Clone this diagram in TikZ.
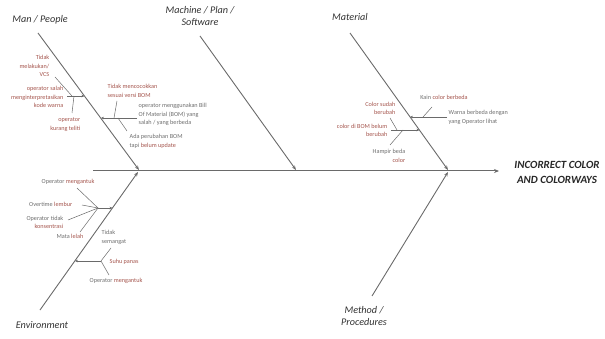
\documentclass[tikz,border=0pt]{standalone}
\usepackage{fontspec}
\setmainfont{Carlito}
\usetikzlibrary{arrows.meta}
\definecolor{ln}{HTML}{6A6A6A}
\definecolor{tx}{HTML}{6E6E6E}
\definecolor{rd}{HTML}{A4544C}
\newcommand{\rt}[1]{\textcolor{rd}{#1}}
\begin{document}
\begin{tikzpicture}[x=1pt,y=-1pt,
 bone/.style={draw=ln, line width=0.9pt, -{Stealth[length=4.5pt,width=3.5pt]}},
 spine/.style={draw=ln, line width=1pt, -{Stealth[length=5pt,width=4pt]}},
 sub/.style={draw=ln, line width=0.6pt, -{Stealth[length=3pt,width=2.6pt]}},
 twig/.style={draw=ln, line width=0.5pt},
 lbl/.style={font=\fontsize{6.2}{8.5}\selectfont, text=tx, inner sep=0.5pt},
 cat/.style={font=\fontsize{10.2}{12}\selectfont\itshape, text=black!80, inner sep=0pt, align=center},
 ttl/.style={font=\fontsize{11}{15}\selectfont\bfseries\itshape, text=black!85, inner sep=0pt, align=center},
]
\useasboundingbox (0,0) rectangle (605,339);
% spine
\coordinate (spS) at (93,171);
\coordinate (spE) at (499,171);
\draw[spine] (spS) -- (spE);
\node[ttl] (title) at (557,172.5) {INCORRECT COLOR\\AND COLORWAYS};
% main bones
\coordinate (manT) at (38,33);   \coordinate (manJ) at (139,170);
\coordinate (envT) at (40,310);  \coordinate (envJ) at (138,172);
\coordinate (macT) at (200,36);  \coordinate (macJ) at (296,170);
\coordinate (matT) at (350,33);  \coordinate (matJ) at (448,170);
\coordinate (metT) at (372,296); \coordinate (metJ) at (448,172);
\draw[bone] (manT) -- (manJ);
\draw[bone] (envT) -- (envJ);
\draw[bone] (macT) -- (macJ);
\draw[bone] (matT) -- (matJ);
\draw[bone] (metT) -- (metJ);
% category labels
\node[cat] (cMan) at (40,20) {Man / People};
\node[cat] (cMac) at (200,16) {Machine / Plan /\\Software};
\node[cat] (cMat) at (350,17) {Material};
\node[cat] (cEnv) at (42,325) {Environment};
\node[cat] (cMet) at (364,316) {Method /\\Procedures};
% ---- Man / People ----
\coordinate (m1a) at (67,96);  \coordinate (m1b) at (84.5,96);
\draw[sub] (m1a) -- (m1b);
\coordinate (m2a) at (137,118); \coordinate (m2b) at (101,118);
\draw[sub] (m2a) -- (m2b);
\node[lbl, anchor=east, align=right] (n1) at (50,66) {\rt{Tidak}\\\rt{melakukan/}\\\rt{VCS}};
\node[lbl, anchor=east, align=right] (n2) at (64,97) {\rt{operator salah}\\\rt{menginterpretasikan}\\\rt{kode warna}};
\node[lbl, anchor=east, align=right] (n3) at (81,124.5) {\rt{operator}\\\rt{kurang teliti}};
\node[lbl, anchor=west, align=left] (n4) at (107,91) {\rt{Tidak mencocokkan}\\\rt{sesuai versi BOM}};
\node[lbl, anchor=west, align=left] (n5) at (138,114.5) {operator menggunakan Bill\\Of Material (BOM) yang\\salah / yang berbeda};
\node[lbl, anchor=west, align=left] (n6) at (129,141.5) {Ada perubahan BOM\\tapi \rt{belum update}};
\coordinate (t1) at (55,77);  \coordinate (t1e) at (72,96);
\coordinate (t2) at (72,113); \coordinate (t2e) at (74,96);
\coordinate (t3) at (117,101); \coordinate (t3e) at (114,118);
\coordinate (t4) at (127,131); \coordinate (t4e) at (118,118);
\draw[twig] (t1) -- (t1e);
\draw[twig] (t2) -- (t2e);
\draw[twig] (t3) -- (t3e);
\draw[twig] (t4) -- (t4e);
% ---- Environment ----
\coordinate (e1a) at (98,208); \coordinate (e1b) at (112.5,208);
\draw[sub] (e1a) -- (e1b);
\coordinate (e2a) at (101,261); \coordinate (e2b) at (75,261);
\draw[sub] (e2a) -- (e2b);
\node[lbl] (x1) at (68,182) {Operator \rt{mengantuk}};
\node[lbl, anchor=east] (x2) at (73,204) {Overtime \rt{lembur}};
\node[lbl, anchor=east, align=right] (x3) at (64,222.5) {Operator tidak\\\rt{konsentrasi}};
\node[lbl] (x4) at (70,236) {Mata \rt{lelah}};
\node[lbl, anchor=west, align=left] (x5) at (101,237.5) {Tidak\\semangat};
\node[lbl, anchor=west] (x6) at (109,262) {\rt{Suhu panas}};
\node[lbl] (x7) at (116,281) {Operator \rt{mengantuk}};
\coordinate (u1) at (77,188);  \coordinate (u2) at (82,205);
\coordinate (u3) at (68,220);  \coordinate (u4) at (80,232);
\draw[twig] (u1) -- (e1a);
\draw[twig] (u2) -- (e1a);
\draw[twig] (u3) -- (e1a);
\draw[twig] (u4) -- (e1a);
\coordinate (u5) at (111,248); \coordinate (u6) at (109,275);
\draw[twig] (e2a) -- (u5);
\draw[twig] (e2a) -- (u6);
% ---- Material ----
\coordinate (a1a) at (447,117); \coordinate (a1b) at (410,117);
\draw[sub] (a1a) -- (a1b);
\coordinate (a2a) at (391,130); \coordinate (a2b) at (419.5,130);
\draw[sub] (a2a) -- (a2b);
\node[lbl] (y1) at (444,97) {Kain \rt{color berbeda}};
\node[lbl, anchor=west, align=left] (y2) at (448,117.5) {Warna berbeda dengan\\yang Operator lihat};
\node[lbl, anchor=east, align=right] (y3) at (396,108.5) {\rt{Color sudah}\\\rt{berubah}};
\node[lbl, anchor=east, align=right] (y4) at (388,130.5) {\rt{color di BOM belum}\\\rt{berubah}};
\node[lbl, anchor=east, align=right] (y5) at (406,156) {Hampir beda\\\rt{color}};
\coordinate (v1) at (432,107); \coordinate (v1e) at (423,117);
\coordinate (v2) at (390,118); \coordinate (v2e) at (397,130);
\coordinate (v3) at (390,145); \coordinate (v3e) at (403,130);
\draw[twig] (v1) -- (v1e);
\draw[twig] (v2) -- (v2e);
\draw[twig] (v3) -- (v3e);
\end{tikzpicture}
\end{document}
